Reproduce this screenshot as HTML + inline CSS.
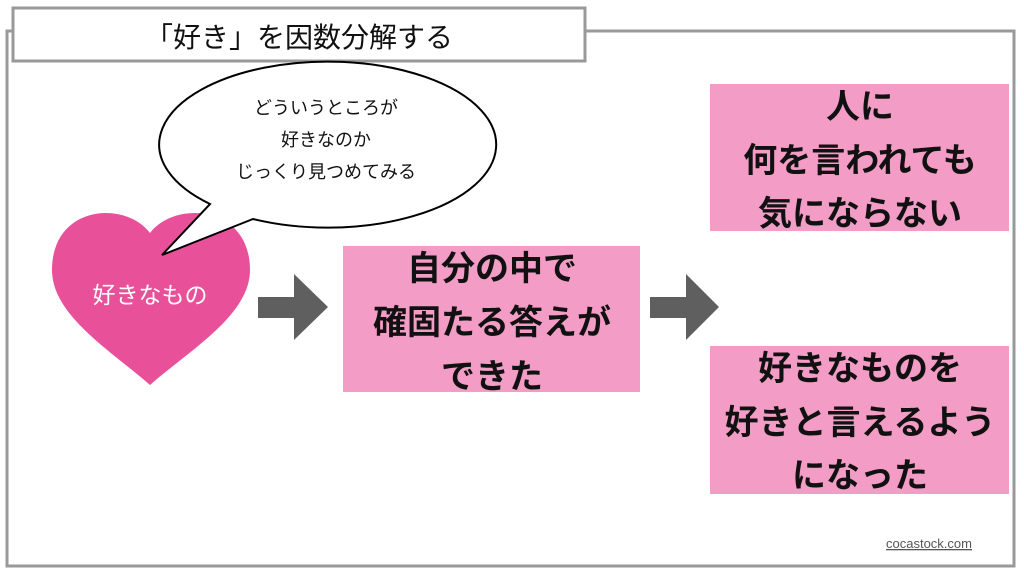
<!DOCTYPE html>
<html><head><meta charset="utf-8"><style>
html,body{margin:0;padding:0;background:#fff;width:1024px;height:576px;overflow:hidden}
svg{display:block}
text{font-family:"Liberation Sans","Noto Sans CJK JP",sans-serif}
</style></head><body>
<svg width="1024" height="576" viewBox="0 0 1024 576">
<rect x="7" y="31" width="1007" height="535" fill="#fff" stroke="#999" stroke-width="3"/>
<rect x="13" y="8" width="572" height="53" fill="#fff" stroke="#999" stroke-width="3"/>
<text x="299" y="47" font-size="28" text-anchor="middle" fill="#111">「好き」を因数分解する</text>

<path d="M150 233 C 125 200, 52 205, 52 270 C 52 315, 110 350, 150 385 C 190 350, 250 315, 250 270 C 250 205, 175 200, 150 233 Z" fill="#e8519a"/>
<text x="150" y="303" font-size="23" text-anchor="middle" fill="#fff">好きなもの</text>

<path d="M210 204 A168.5 83 0 1 1 253 219 L162 255 Z" fill="#fff" stroke="#000" stroke-width="2" stroke-linejoin="miter"/>
<g font-size="18" text-anchor="middle" fill="#111">
<text x="326" y="114">どういうところが</text>
<text x="326" y="146">好きなのか</text>
<text x="326" y="178">じっくり見つめてみる</text>
</g>

<path d="M258 297 H294 V274 L328 307 L294 340 V318 H258 Z" fill="#5f5f5f"/>
<path d="M650 297 H686 V274 L719 307 L686 340 V318 H650 Z" fill="#5f5f5f"/>

<rect x="343" y="246" width="297" height="146" fill="#f29cc6"/>
<rect x="710" y="84" width="299" height="147" fill="#f29cc6"/>
<rect x="710" y="346" width="299" height="148" fill="#f29cc6"/>
<g font-size="34" font-weight="bold" text-anchor="middle" fill="#111">
<text x="492" y="280">自分の中で</text>
<text x="492" y="334">確固たる答えが</text>
<text x="492" y="388">できた</text>
<text x="860" y="118">人に</text>
<text x="860" y="172">何を言われても</text>
<text x="860" y="225">気にならない</text>
<text x="860" y="380">好きなものを</text>
<text x="860" y="434">好きと言えるよう</text>
<text x="860" y="487">になった</text>
</g>
<text x="929" y="548" font-size="13" text-anchor="middle" fill="#555" text-decoration="underline">cocastock.com</text>
</svg>
</body></html>
